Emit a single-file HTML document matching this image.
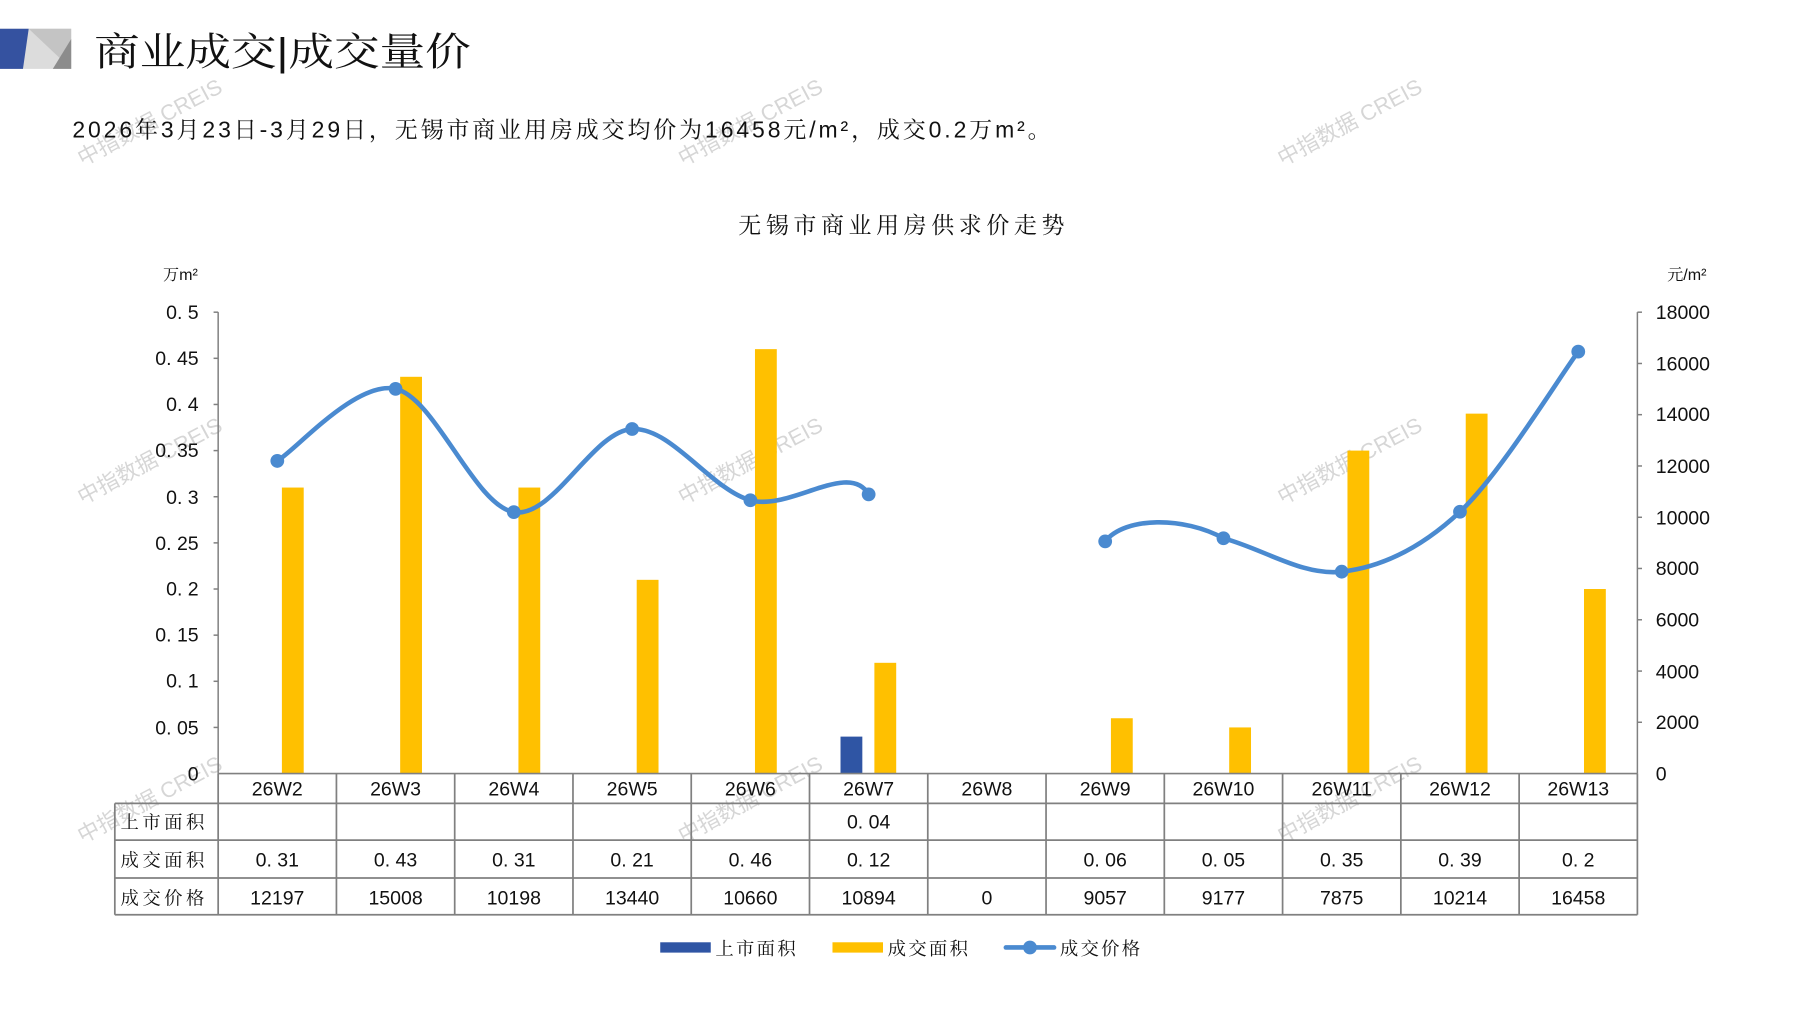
<!DOCTYPE html>
<html><head><meta charset="utf-8">
<style>
html,body{margin:0;padding:0;background:#fff;}
svg{display:block;}
text{font-family:"Liberation Sans","Noto Sans CJK SC",sans-serif;fill:#111;}
.cj{font-family:"Liberation Sans","Noto Serif CJK SC",serif;}
.wm text{fill:#d6d6d6;font-size:19px;}
</style></head><body>
<svg width="1797" height="1010" viewBox="0 0 1565 880" preserveAspectRatio="none" xmlns="http://www.w3.org/2000/svg">
<!-- watermarks -->
<g class="wm">
<text transform="translate(72,145) rotate(-28)">中指数据 CREIS</text>
<text transform="translate(595,145) rotate(-28)">中指数据 CREIS</text>
<text transform="translate(1117,145) rotate(-28)">中指数据 CREIS</text>
<text transform="translate(72,440) rotate(-28)">中指数据 CREIS</text>
<text transform="translate(595,440) rotate(-28)">中指数据 CREIS</text>
<text transform="translate(1117,440) rotate(-28)">中指数据 CREIS</text>
<text transform="translate(72,735) rotate(-28)">中指数据 CREIS</text>
<text transform="translate(595,735) rotate(-28)">中指数据 CREIS</text>
<text transform="translate(1117,735) rotate(-28)">中指数据 CREIS</text>
</g>
<!-- header -->
<polygon points="0,25 62,25 62,60 0,60" fill="#dcdcdc"/>
<polygon points="0,25 25,25 20,60 0,60" fill="#3552a0"/>
<polygon points="25,25 62,25 62,60" fill="#c4c4c4"/>
<polygon points="62,34 62,60 46,60" fill="#8c8c8c"/>
<text x="82" y="57" class="cj" font-size="34" textLength="328" lengthAdjust="spacingAndGlyphs">商业成交|成交量价</text>
<text x="63" y="120" class="cj" font-size="20" textLength="852">2026年3月23日-3月29日，无锡市商业用房成交均价为16458元/m²，成交0.2万m²。</text>
<text x="643" y="203" class="cj" font-size="20" textLength="284">无锡市商业用房供求价走势</text>
<text x="142" y="244" class="cj" font-size="14">万m²</text>
<text x="1452" y="244" class="cj" font-size="14">元/m²</text>
<!-- axes -->
<g stroke="#808080" stroke-width="1.3" fill="none">
<line x1="190" y1="272" x2="190" y2="674"/>
<line x1="1426" y1="272" x2="1426" y2="674"/>
<line x1="186" y1="272" x2="190" y2="272"/><line x1="186" y1="312.2" x2="190" y2="312.2"/><line x1="186" y1="352.4" x2="190" y2="352.4"/><line x1="186" y1="392.6" x2="190" y2="392.6"/><line x1="186" y1="432.8" x2="190" y2="432.8"/><line x1="186" y1="473" x2="190" y2="473"/><line x1="186" y1="513.2" x2="190" y2="513.2"/><line x1="186" y1="553.4" x2="190" y2="553.4"/><line x1="186" y1="593.6" x2="190" y2="593.6"/><line x1="186" y1="633.8" x2="190" y2="633.8"/>
<line x1="1426" y1="272" x2="1430" y2="272"/><line x1="1426" y1="316.7" x2="1430" y2="316.7"/><line x1="1426" y1="361.3" x2="1430" y2="361.3"/><line x1="1426" y1="406" x2="1430" y2="406"/><line x1="1426" y1="450.7" x2="1430" y2="450.7"/><line x1="1426" y1="495.3" x2="1430" y2="495.3"/><line x1="1426" y1="540" x2="1430" y2="540"/><line x1="1426" y1="584.7" x2="1430" y2="584.7"/><line x1="1426" y1="629.3" x2="1430" y2="629.3"/>
</g>
<g font-size="17" text-anchor="end">
<text x="173" y="278">0. 5</text><text x="173" y="318">0. 45</text><text x="173" y="358">0. 4</text><text x="173" y="398">0. 35</text><text x="173" y="439">0. 3</text><text x="173" y="479">0. 25</text><text x="173" y="519">0. 2</text><text x="173" y="559">0. 15</text><text x="173" y="599">0. 1</text><text x="173" y="640">0. 05</text><text x="173" y="680">0</text>
</g>
<g font-size="17">
<text x="1442" y="278">18000</text><text x="1442" y="323">16000</text><text x="1442" y="367">14000</text><text x="1442" y="412">12000</text><text x="1442" y="457">10000</text><text x="1442" y="501">8000</text><text x="1442" y="546">6000</text><text x="1442" y="591">4000</text><text x="1442" y="635">2000</text><text x="1442" y="680">0</text>
</g>
<!-- bars -->
<g fill="#ffc000">
<rect x="245.5" y="424.8" width="19" height="249.2"/>
<rect x="348.5" y="328.3" width="19" height="345.7"/>
<rect x="451.5" y="424.8" width="19" height="249.2"/>
<rect x="554.5" y="505.2" width="19" height="168.8"/>
<rect x="657.5" y="304.2" width="19" height="369.8"/>
<rect x="761.5" y="577.5" width="19" height="96.5"/>
<rect x="967.5" y="625.8" width="19" height="48.2"/>
<rect x="1070.5" y="633.8" width="19" height="40.2"/>
<rect x="1173.5" y="392.6" width="19" height="281.4"/>
<rect x="1276.5" y="360.4" width="19" height="313.6"/>
<rect x="1379.5" y="513.2" width="19" height="160.8"/>
</g>
<rect x="732" y="641.8" width="19" height="32.2" fill="#2f55a4"/>
<!-- line -->
<g stroke="#4a8ad0" stroke-width="4" fill="none" stroke-linecap="round">
<path d="M241.5,401.6 C258.7,391.1 310.2,331.4 344.5,338.8 C378.8,346.2 413.2,440.4 447.5,446.2 C481.8,452 516.2,375.5 550.5,373.8 C584.8,372.1 619.2,426.4 653.5,435.9 C687.8,445.4 739.3,401 756.5,430.7"/>
<path d="M962.5,471.7 C979.7,450 1031.2,450 1065.5,469 C1099.8,478 1134.2,502 1168.5,498.1 C1202.8,494.25 1237.2,477.85 1271.5,445.9 C1305.8,413.95 1357.3,329.65 1374.5,306.4"/>
</g>
<g fill="#4a8ad0">
<circle cx="241.5" cy="401.6" r="6"/><circle cx="344.5" cy="338.8" r="6"/><circle cx="447.5" cy="446.2" r="6"/><circle cx="550.5" cy="373.8" r="6"/><circle cx="653.5" cy="435.9" r="6"/><circle cx="756.5" cy="430.7" r="6"/>
<circle cx="962.5" cy="471.7" r="6"/><circle cx="1065.5" cy="469" r="6"/><circle cx="1168.5" cy="498.1" r="6"/><circle cx="1271.5" cy="445.9" r="6"/><circle cx="1374.5" cy="306.4" r="6"/>
</g>
<!-- table -->
<g stroke="#808080" stroke-width="1.5" fill="none">
<line x1="190" y1="674" x2="1426" y2="674"/>
<line x1="100" y1="700" x2="1426" y2="700"/>
<line x1="100" y1="732" x2="1426" y2="732"/>
<line x1="100" y1="765" x2="1426" y2="765"/>
<line x1="100" y1="797" x2="1426" y2="797"/>
<line x1="100" y1="700" x2="100" y2="797"/>
<line x1="190" y1="674" x2="190" y2="797"/><line x1="293" y1="674" x2="293" y2="797"/><line x1="396" y1="674" x2="396" y2="797"/><line x1="499" y1="674" x2="499" y2="797"/><line x1="602" y1="674" x2="602" y2="797"/><line x1="705" y1="674" x2="705" y2="797"/><line x1="808" y1="674" x2="808" y2="797"/><line x1="911" y1="674" x2="911" y2="797"/><line x1="1014" y1="674" x2="1014" y2="797"/><line x1="1117" y1="674" x2="1117" y2="797"/><line x1="1220" y1="674" x2="1220" y2="797"/><line x1="1323" y1="674" x2="1323" y2="797"/><line x1="1426" y1="674" x2="1426" y2="797"/>
</g>
<g font-size="17" text-anchor="middle">
<text x="241.5" y="693">26W2</text><text x="344.5" y="693">26W3</text><text x="447.5" y="693">26W4</text><text x="550.5" y="693">26W5</text><text x="653.5" y="693">26W6</text><text x="756.5" y="693">26W7</text><text x="859.5" y="693">26W8</text><text x="962.5" y="693">26W9</text><text x="1065.5" y="693">26W10</text><text x="1168.5" y="693">26W11</text><text x="1271.5" y="693">26W12</text><text x="1374.5" y="693">26W13</text>
<text x="756.5" y="722">0. 04</text>
<text x="241.5" y="755">0. 31</text><text x="344.5" y="755">0. 43</text><text x="447.5" y="755">0. 31</text><text x="550.5" y="755">0. 21</text><text x="653.5" y="755">0. 46</text><text x="756.5" y="755">0. 12</text><text x="962.5" y="755">0. 06</text><text x="1065.5" y="755">0. 05</text><text x="1168.5" y="755">0. 35</text><text x="1271.5" y="755">0. 39</text><text x="1374.5" y="755">0. 2</text>
<text x="241.5" y="788">12197</text><text x="344.5" y="788">15008</text><text x="447.5" y="788">10198</text><text x="550.5" y="788">13440</text><text x="653.5" y="788">10660</text><text x="756.5" y="788">10894</text><text x="859.5" y="788">0</text><text x="962.5" y="788">9057</text><text x="1065.5" y="788">9177</text><text x="1168.5" y="788">7875</text><text x="1271.5" y="788">10214</text><text x="1374.5" y="788">16458</text>
</g>
<g font-size="16" letter-spacing="3">
<text x="105" y="722" class="cj">上市面积</text>
<text x="105" y="755" class="cj">成交面积</text>
<text x="105" y="788" class="cj">成交价格</text>
</g>
<!-- legend -->
<rect x="575" y="821" width="44" height="9" fill="#2f55a4"/>
<text x="623" y="832" class="cj" font-size="16" letter-spacing="2">上市面积</text>
<rect x="725" y="821" width="44" height="9" fill="#ffc000"/>
<text x="773" y="832" class="cj" font-size="16" letter-spacing="2">成交面积</text>
<line x1="876" y1="825.5" x2="918" y2="825.5" stroke="#4a8ad0" stroke-width="4" stroke-linecap="round"/>
<circle cx="897" cy="825.5" r="6" fill="#4a8ad0"/>
<text x="923" y="832" class="cj" font-size="16" letter-spacing="2">成交价格</text>
</svg>
</body></html>
